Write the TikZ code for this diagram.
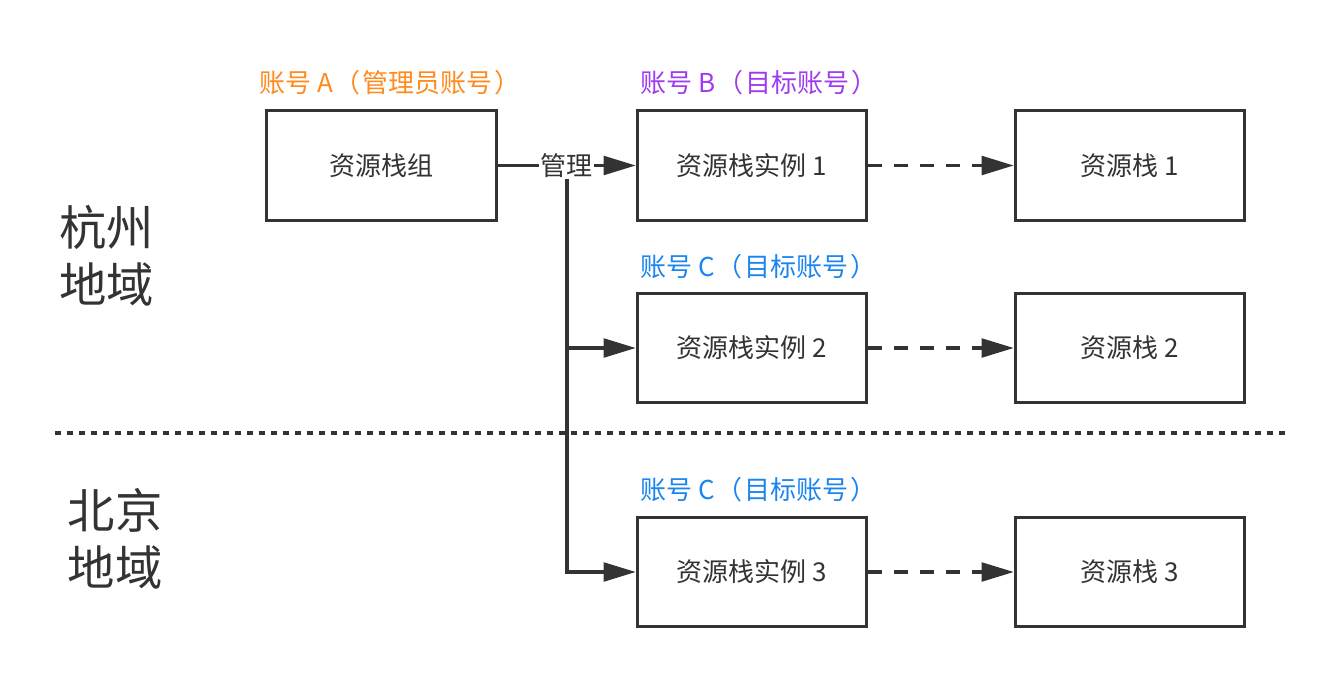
\documentclass[tikz,border=0pt]{standalone}
\usepackage{fontspec}
\setmainfont{Noto Sans CJK SC}
\usetikzlibrary{arrows.meta}
\definecolor{ink}{HTML}{333333}
\definecolor{orangeA}{HTML}{FF8A1E}
\definecolor{purpleB}{HTML}{9E3BF2}
\definecolor{blueC}{HTML}{1A85F0}
\newcommand{\lp}{\hspace{1.5pt}（\hspace{1.5pt}}
\newcommand{\rp}{\hspace{1.5pt}）}
\tikzset{
  box/.style={draw=ink, line width=2.4pt, minimum width=172pt, minimum height=82pt, inner sep=0pt, text=ink, font=\fontsize{19.5pt}{23pt}\selectfont},
  conn/.style={draw=ink, line width=2.4pt, -{Triangle[length=24pt,width=14pt]}},
  dconn/.style={conn, dash pattern=on 10.5pt off 9pt},
  acct/.style={anchor=west, inner sep=0pt, font=\fontsize{19.5pt}{23pt}\selectfont},
  region/.style={align=center, text=ink, font=\fontsize{35.5pt}{43pt}\selectfont},
}
\begin{document}
\begin{tikzpicture}[x=0.75pt,y=-0.75pt]
\useasboundingbox (0,0) rectangle (1340,678);
% boxes
\node[box] (g)  at (381.5,165.5) {\raisebox{-1.5pt}{资源栈组}};
\node[box] (i1) at (752,165.5) {\raisebox{-1.5pt}{资源栈实例 1}};
\node[box] (s1) at (1130,165.5) {\raisebox{-1.5pt}{资源栈 1}};
\node[box] (i2) at (752,348) {\raisebox{-1.5pt}{资源栈实例 2}};
\node[box] (s2) at (1130,348) {\raisebox{-1.5pt}{资源栈 2}};
\node[box] (i3) at (752,572) {\raisebox{-1.5pt}{资源栈实例 3}};
\node[box] (s3) at (1130,572) {\raisebox{-1.5pt}{资源栈 3}};
% account labels
\node[acct, text=orangeA] (la) at (259,83) {账号 A\lp 管理员账号\rp};
\node[acct, text=purpleB] (lb) at (640,83) {账号 B\lp 目标账号\rp};
\node[acct, text=blueC] (lc1) at (640,267) {账号 C\lp 目标账号\rp};
\node[acct, text=blueC] (lc2) at (640,490) {账号 C\lp 目标账号\rp};
% regions
\node[region] (hz) at (107,256) {杭州\\地域};
\node[region] (bj) at (115,539) {北京\\地域};
% divider
\coordinate (dl) at (55,433);
\coordinate (dr) at (1285,433);
\draw[ink, line width=3pt, dash pattern=on 4.5pt off 4.5pt] (dl) -- (dr);
% connectors
\coordinate (j) at (567,165.5);
\draw[conn] (j) |- (i2.west);
\draw[conn] (j) |- (i3.west);
\draw[conn] (g.east) -- node[fill=white, text=ink, inner sep=1pt, font=\fontsize{19.5pt}{23pt}\selectfont] (m) {\raisebox{-1.5pt}{管理}} (i1.west);
\draw[dconn] (i1.east) -- (s1.west);
\draw[dconn] (i2.east) -- (s2.west);
\draw[dconn] (i3.east) -- (s3.west);
\end{tikzpicture}
\end{document}
